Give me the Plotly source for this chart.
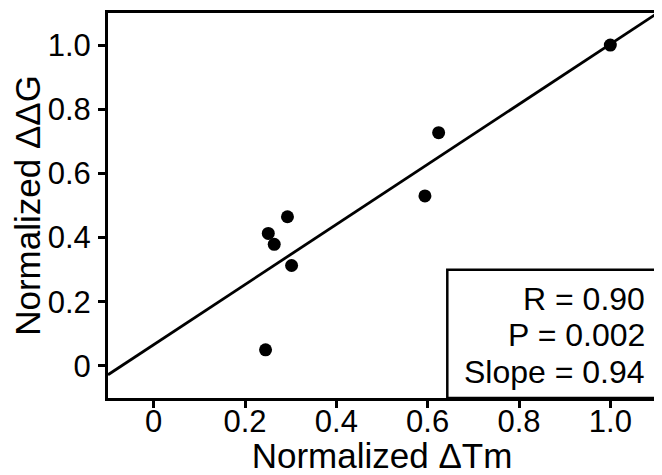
import numpy as np
import plotly.graph_objects as go

# Data
norm_dTm = [1.0, 0.624, 0.594, 0.293, 0.251, 0.264, 0.302, 0.245]
norm_ddG = [1.0, 0.727, 0.530, 0.465, 0.413, 0.379, 0.313, 0.050]
tick_vals = [0, 0.2, 0.4, 0.6, 0.8, 1.0]
tick_text = ["0", "0.2", "0.4", "0.6", "0.8", "1.0"]
stats_text = ["R = 0.90", "P = 0.002", "Slope = 0.94"]
axis_range = [-0.1, 1.1]

slope, intercept = np.polyfit(norm_dTm, norm_ddG, 1)
fit_x = np.array(axis_range)
fit_y = slope * fit_x + intercept

FONT = "Liberation Sans, Arial, Helvetica, sans-serif"

fig = go.Figure()
fig.add_trace(go.Scatter(x=fit_x, y=fit_y, mode="lines",
                         line=dict(color="black", width=2.8), showlegend=False,
                         hoverinfo="skip"))
fig.add_trace(go.Scatter(x=norm_dTm, y=norm_ddG, mode="markers",
                         marker=dict(color="black", size=13), showlegend=False))

# Stats box
fig.add_shape(type="rect", xref="x", yref="y", x0=0.643, x1=1.1, y0=-0.1, y1=0.30,
              line=dict(color="black", width=2.5), fillcolor="white", layer="above")
stat_y = [0.21, 0.097, -0.019]
for txt, yy in zip(stats_text, stat_y):
    fig.add_annotation(x=1, xref="paper", y=yy, yref="y", text=txt, showarrow=False,
                       xanchor="right", yanchor="middle", xshift=-9,
                       font=dict(family=FONT, size=32, color="black"))

axis_common = dict(range=axis_range, showgrid=False, zeroline=False, showline=True,
                   linecolor="black", linewidth=3, mirror=True, ticks="outside",
                   ticklen=7, tickwidth=2.5, tickcolor="black", automargin=False,
                   tickvals=tick_vals, ticktext=tick_text,
                   tickfont=dict(family=FONT, size=31, color="black"))

fig.update_xaxes(**axis_common, ticklabelstandoff=-13,
                 title=dict(text="Normalized ΔTm", standoff=2,
                            font=dict(family=FONT, size=35, color="black")))
fig.update_yaxes(**axis_common, ticklabelstandoff=1,
                 title=dict(text="Normalized ΔΔG", standoff=4,
                            font=dict(family=FONT, size=35, color="black")))

# The page body adds an 8px margin, so the figure is sized/margined to compensate
fig.update_layout(width=654, height=467, margin=dict(l=100, r=6, t=5, b=77),
                  plot_bgcolor="white", paper_bgcolor="white",
                  font=dict(family=FONT, color="black"))

fig.write_html("out.html")
